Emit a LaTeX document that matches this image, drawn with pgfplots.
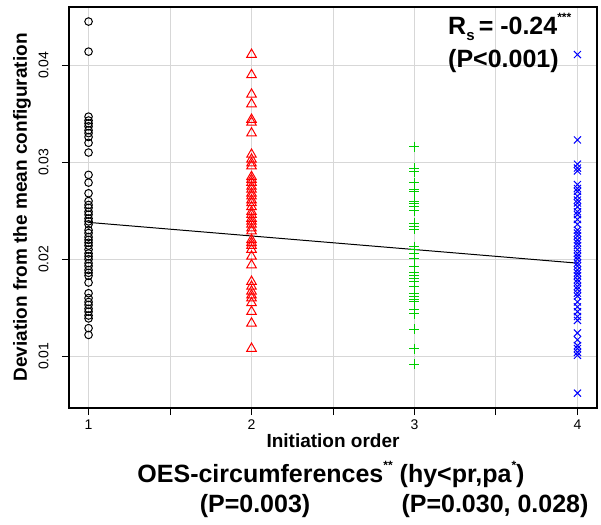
\documentclass[border=0pt]{standalone}
\usepackage{pgfplots}
\pgfplotsset{compat=1.18}
\usepackage{fontspec}
\setmainfont{Liberation Sans}
\definecolor{rgreen}{RGB}{0,205,0}
\definecolor{gridgray}{RGB}{215,215,215}
\newcommand{\supstar}[1]{\raisebox{0.52em}{\fontsize{12}{12}\selectfont #1}}
\begin{document}
\begin{tikzpicture}
\path[use as bounding box] (-69pt,-116pt) rectangle (532pt,408pt);
\begin{axis}[
 at={(0pt,0pt)}, anchor=south west,
 scale only axis, width=528pt, height=401pt,
 xmin=0.88, xmax=4.12, ymin=0.00467, ymax=0.0460,
 xtick={1,1.5,2,2.5,3,3.5,4}, xticklabels={1,,2,,3,,4},
 ytick={0.01,0.02,0.03,0.04},
 scaled y ticks=false,
 /pgf/number format/fixed, /pgf/number format/fixed zerofill,
 /pgf/number format/precision=2, /pgf/number format/assume math mode=true,
 tick align=outside, major tick length=7pt,
 xtick pos=bottom, ytick pos=left,
 tick style={black, line width=1pt},
 axis line style={black, line width=1.5pt},
 grid=major, major grid style={gridgray, line width=1pt},
 tick label style={font=\fontsize{14}{16}\selectfont},
 yticklabel style={rotate=90, anchor=south},
 yticklabel shift=10pt,
 xticklabel shift=1pt,
 xlabel={Initiation order},
 ylabel={Deviation from the mean configuration},
 xlabel style={at={(axis description cs:0.5,-0.0823)}, anchor=center, font=\bfseries\fontsize{19}{21}\selectfont},
 ylabel style={at={(axis description cs:-0.089,0.5)}, anchor=center, font=\bfseries\fontsize{19}{21}\selectfont},
 clip=false,
]
\addplot[only marks, mark=o, mark size=3.8pt, black, mark options={line width=1pt}] coordinates {
(1,0.0445)(1,0.0414)(1,0.0347)(1,0.0343)(1,0.0340)(1,0.0337)(1,0.0333)(1,0.0330)(1,0.0326)(1,0.0320)(1,0.0310)
(1,0.0287)(1,0.0279)(1,0.0268)(1,0.0260)(1,0.0256)(1,0.0253)(1,0.0249)(1,0.0246)(1,0.0242)(1,0.0239)(1,0.0236)
(1,0.0230)(1,0.0227)(1,0.0223)(1,0.0220)(1,0.0217)(1,0.0214)(1,0.0210)(1,0.0206)(1,0.0203)(1,0.0200)(1,0.0196)
(1,0.0193)(1,0.0189)(1,0.0186)(1,0.0183)(1,0.0176)(1,0.0165)(1,0.0160)(1,0.0156)(1,0.0153)(1,0.0149)(1,0.0146)
(1,0.0142)(1,0.0139)(1,0.0129)(1,0.0122)
};
\addplot[only marks, mark=triangle, mark size=5.5pt, red, mark options={line width=1pt}] coordinates {
(2,0.0411)(2,0.0390)(2,0.0370)(2,0.0360)(2,0.0344)(2,0.0341)(2,0.0330)(2,0.0308)(2,0.0303)(2,0.0299)(2,0.0296)
(2,0.0285)(2,0.0282)(2,0.0279)(2,0.0275)(2,0.0272)(2,0.0268)(2,0.0265)(2,0.0261)(2,0.0258)(2,0.0254)(2,0.0249)
(2,0.0246)(2,0.0242)(2,0.0239)(2,0.0236)(2,0.0232)(2,0.0229)(2,0.0220)(2,0.0217)(2,0.0214)(2,0.0210)(2,0.0203)
(2,0.0194)(2,0.0177)(2,0.0172)(2,0.0167)(2,0.0163)(2,0.0160)(2,0.0155)(2,0.0146)(2,0.0134)(2,0.0108)
};
\addplot[only marks, mark=+, mark size=5pt, rgreen, mark options={line width=1pt}] coordinates {
(3,0.0316)(3,0.0294)(3,0.0290)(3,0.0279)(3,0.0272)(3,0.0270)(3,0.0260)(3,0.0257)(3,0.0254)(3,0.0250)(3,0.0237)
(3,0.0234)(3,0.0231)(3,0.0213)(3,0.0210)(3,0.0206)(3,0.0201)(3,0.0193)(3,0.0186)(3,0.0183)(3,0.0180)(3,0.0177)
(3,0.0172)(3,0.0165)(3,0.0162)(3,0.0159)(3,0.0156)(3,0.0148)(3,0.0144)(3,0.0128)(3,0.0108)(3,0.0092)
};
\addplot[only marks, mark=x, mark size=5pt, blue, mark options={line width=1pt}] coordinates {
(4,0.0411)(4,0.0323)(4,0.0298)(4,0.0294)(4,0.0291)(4,0.0277)(4,0.0273)(4,0.0270)(4,0.0265)(4,0.0261)(4,0.0258)
(4,0.0254)(4,0.0249)(4,0.0246)(4,0.0241)(4,0.0236)(4,0.0230)(4,0.0227)(4,0.0224)(4,0.0220)(4,0.0217)(4,0.0214)
(4,0.0210)(4,0.0206)(4,0.0203)(4,0.0200)(4,0.0196)(4,0.0193)(4,0.0189)(4,0.0186)(4,0.0183)(4,0.0179)(4,0.0176)
(4,0.0172)(4,0.0169)(4,0.0165)(4,0.0162)(4,0.0156)(4,0.0151)(4,0.0146)(4,0.0141)(4,0.0137)(4,0.0124)(4,0.0117)
(4,0.0111)(4,0.0108)(4,0.0104)(4,0.0101)(4,0.0062)
};
\addplot[black, line width=1pt, no marks] coordinates {(1,0.0238)(4,0.0196)};
\end{axis}
\node[anchor=west, font=\bfseries\fontsize{25}{28}\selectfont, inner sep=0pt] at (379pt,381pt) {R\raisebox{-0.24em}{\fontsize{15}{15}\selectfont s}\,= -0.24\supstar{***}};
\node[anchor=west, font=\bfseries\fontsize{25}{28}\selectfont, inner sep=0pt] at (379pt,347pt) {(P<0.001)};
\node[font=\bfseries\fontsize{25}{28}\selectfont, inner sep=0pt] at (262pt,-66pt) {OES-circumferences\supstar{**} (hy<pr,pa\supstar{*})};
\node[font=\bfseries\fontsize{25}{28}\selectfont, inner sep=0pt] at (186pt,-98pt) {(P=0.003)};
\node[font=\bfseries\fontsize{25}{28}\selectfont, inner sep=0pt] at (426pt,-98pt) {(P=0.030, 0.028)};
\end{tikzpicture}
\end{document}
